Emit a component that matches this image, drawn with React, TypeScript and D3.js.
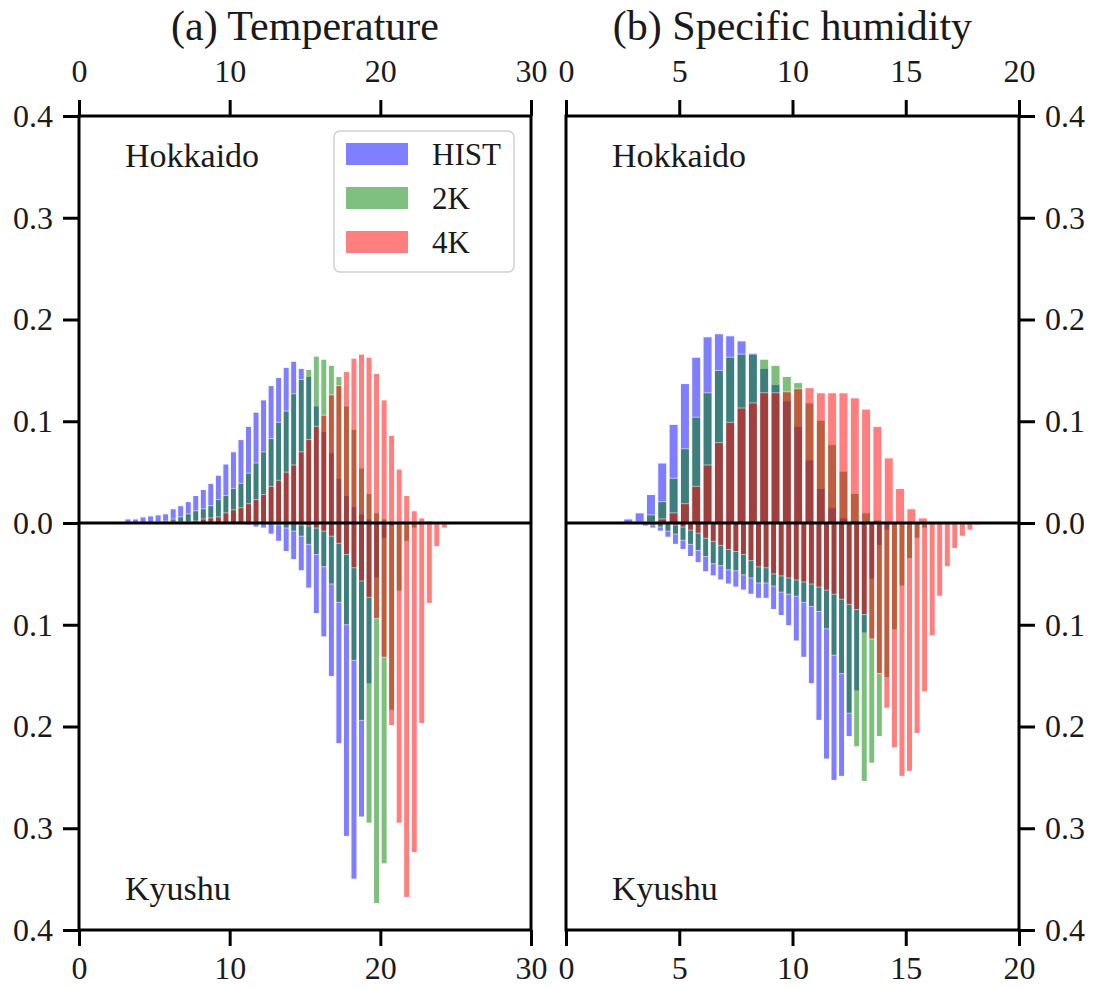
import React, { useRef, useEffect } from "react";
import * as d3 from "d3";

// series: HIST (blue), 2K (green), 4K (red)
const seriesNames = ["HIST", "2K", "4K"];
const seriesColors = ["#0000ff", "#008000", "#ff0000"];

// (a) temperature, bins of 0.5, Hokkaido (upward)
const tempBinWidth = 0.5;
const tempHokStarts = [3.0, 5.0, 6.0];
const tempHokHist = [0.004, 0.004, 0.006, 0.007, 0.008, 0.009, 0.014, 0.017, 0.021, 0.027, 0.033, 0.039, 0.047, 0.058, 0.070, 0.082, 0.095, 0.109, 0.121, 0.135, 0.143, 0.153, 0.159, 0.152, 0.144, 0.115, 0.090, 0.069, 0.044, 0.027, 0.016, 0.009, 0.004, 0.001];
const tempHok2K = [0.001, 0.002, 0.004, 0.006, 0.009, 0.012, 0.014, 0.017, 0.023, 0.027, 0.034, 0.039, 0.049, 0.059, 0.070, 0.083, 0.099, 0.110, 0.127, 0.141, 0.151, 0.164, 0.161, 0.155, 0.144, 0.115, 0.092, 0.054, 0.029, 0.010, 0.004, 0.001];
const tempHok4K = [0.001, 0.001, 0.001, 0.002, 0.004, 0.005, 0.006, 0.010, 0.013, 0.015, 0.019, 0.023, 0.028, 0.036, 0.042, 0.050, 0.057, 0.070, 0.082, 0.095, 0.106, 0.126, 0.135, 0.149, 0.162, 0.166, 0.163, 0.147, 0.121, 0.086, 0.053, 0.027, 0.012, 0.005, 0.002, 0.001, 0.001];

// (a) temperature, Kyushu (downward)
const tempKyuStarts = [11.0, 13.0, 14.5];
const tempKyuHist = [0.002, 0.004, 0.005, 0.011, 0.018, 0.028, 0.036, 0.047, 0.064, 0.089, 0.112, 0.151, 0.217, 0.308, 0.350, 0.289, 0.158, 0.054, 0.015, 0.003];
const tempKyu2K = [0.002, 0.005, 0.008, 0.013, 0.021, 0.031, 0.043, 0.060, 0.078, 0.100, 0.135, 0.194, 0.295, 0.374, 0.335, 0.184, 0.067, 0.018, 0.005];
const tempKyu4K = [0.002, 0.003, 0.005, 0.008, 0.013, 0.020, 0.031, 0.044, 0.057, 0.073, 0.094, 0.132, 0.199, 0.295, 0.368, 0.324, 0.197, 0.079, 0.023, 0.005];

// (b) specific humidity, Hokkaido, bins of 0.5
const humHokBinWidth = 0.5;
const humHokStarts = [2.5, 3.0, 3.5];
const humHokHist = [0.004, 0.010, 0.028, 0.059, 0.097, 0.137, 0.163, 0.183, 0.186, 0.184, 0.179, 0.167, 0.152, 0.136, 0.120, 0.095, 0.062, 0.034, 0.015, 0.005, 0.002];
const humHok2K = [0.001, 0.008, 0.021, 0.044, 0.073, 0.104, 0.128, 0.150, 0.163, 0.166, 0.166, 0.161, 0.155, 0.144, 0.138, 0.118, 0.101, 0.077, 0.051, 0.029, 0.010, 0.003];
const humHok4K = [0.001, 0.004, 0.010, 0.019, 0.036, 0.057, 0.079, 0.099, 0.113, 0.118, 0.128, 0.128, 0.129, 0.132, 0.133, 0.128, 0.128, 0.128, 0.123, 0.112, 0.095, 0.064, 0.034, 0.014, 0.005];

// (b) specific humidity, Kyushu, bins of 1/3
const humKyuBinWidth = 1 / 3;
const humKyuStarts = [3.0, 11 / 3, 14 / 3];
const humKyuHist = [0.001, 0.003, 0.005, 0.008, 0.014, 0.021, 0.026, 0.033, 0.039, 0.048, 0.052, 0.056, 0.060, 0.063, 0.066, 0.070, 0.074, 0.074, 0.085, 0.091, 0.101, 0.116, 0.132, 0.158, 0.194, 0.232, 0.253, 0.249, 0.210, 0.165, 0.108, 0.055, 0.022, 0.007, 0.002];
const humKyu2K = [0.002, 0.004, 0.008, 0.011, 0.017, 0.021, 0.027, 0.033, 0.040, 0.042, 0.046, 0.047, 0.051, 0.054, 0.059, 0.059, 0.062, 0.068, 0.070, 0.072, 0.078, 0.082, 0.087, 0.104, 0.130, 0.148, 0.187, 0.220, 0.254, 0.236, 0.210, 0.152, 0.105, 0.062, 0.035, 0.015, 0.005];
const humKyu4K = [0.002, 0.004, 0.007, 0.010, 0.015, 0.018, 0.022, 0.026, 0.028, 0.031, 0.037, 0.043, 0.044, 0.050, 0.052, 0.054, 0.056, 0.058, 0.060, 0.063, 0.066, 0.070, 0.075, 0.080, 0.085, 0.090, 0.114, 0.148, 0.182, 0.221, 0.249, 0.244, 0.207, 0.166, 0.111, 0.072, 0.043, 0.025, 0.013, 0.007, 0.002];

const yTicks = [-0.4, -0.3, -0.2, -0.1, 0, 0.1, 0.2, 0.3, 0.4];
const tempTicks = [0, 10, 20, 30];
const humTicks = [0, 5, 10, 15, 20];

const FONT = "Liberation Serif, DejaVu Serif, serif";
const TEXT = "#1a1a1a";
const yTop = 116;
const yBottom = 930;

const panels = [
  {
    id: "a", title: "(a) Temperature", domain: [0, 30], x0: 79, x1: 531, ticks: tempTicks, side: "left",
    top: { width: tempBinWidth, starts: tempHokStarts, values: [tempHokHist, tempHok2K, tempHok4K] },
    bottom: { width: tempBinWidth, starts: tempKyuStarts, values: [tempKyuHist, tempKyu2K, tempKyu4K] },
    legend: true,
  },
  {
    id: "b", title: "(b) Specific humidity", domain: [0, 20], x0: 566, x1: 1019, ticks: humTicks, side: "right",
    top: { width: humHokBinWidth, starts: humHokStarts, values: [humHokHist, humHok2K, humHok4K] },
    bottom: { width: humKyuBinWidth, starts: humKyuStarts, values: [humKyuHist, humKyu2K, humKyu4K] },
    legend: false,
  },
];

const y = d3.scaleLinear().domain([0.4, -0.4]).range([yTop, yBottom]);

function Bars({ x, group, sign }) {
  const rects = [];
  group.values.forEach((vals, s) => {
    vals.forEach((v, i) => {
      const lo = group.starts[s] + i * group.width + group.width * 0.1;
      const hi = lo + group.width * 0.8;
      const y0 = y(0);
      const y1 = y(sign * v);
      rects.push(
        <rect
          key={`${s}-${i}`}
          x={x(lo)}
          width={x(hi) - x(lo)}
          y={Math.min(y0, y1)}
          height={Math.abs(y1 - y0)}
          fill={seriesColors[s]}
          stroke="#ffffff"
          strokeWidth={1}
          opacity={0.5}
        />
      );
    });
  });
  return <g>{rects}</g>;
}

export default function App() {
  const axesRef = useRef(null);

  useEffect(() => {
    const root = d3.select(axesRef.current);
    root.selectAll("*").remove();
    panels.forEach((p) => {
      const x = d3.scaleLinear().domain(p.domain).range([p.x0, p.x1]);
      const g = root.append("g");
      g.append("g")
        .attr("transform", `translate(0,${yTop})`)
        .call(d3.axisTop(x).tickValues(p.ticks).tickSize(16).tickPadding(18).tickFormat(d3.format("d")));
      g.append("g")
        .attr("transform", `translate(0,${yBottom})`)
        .call(d3.axisBottom(x).tickValues(p.ticks).tickSize(16).tickPadding(10).tickFormat(d3.format("d")));
      const yAxis = (p.side === "left" ? d3.axisLeft(y) : d3.axisRight(y))
        .tickValues(yTicks)
        .tickSize(16)
        .tickPadding(10)
        .tickFormat((d) => d3.format(".1f")(Math.abs(d)));
      g.append("g")
        .attr("transform", `translate(${p.side === "left" ? p.x0 : p.x1},0)`)
        .call(yAxis);
      g.selectAll(".domain").remove();
      g.selectAll(".tick line").attr("stroke", "#000").attr("stroke-width", 3);
      g.selectAll("g").attr("font-family", FONT);
      g.selectAll(".tick text")
        .attr("font-family", FONT)
        .attr("font-size", 32)
        .attr("fill", TEXT);
    });
  }, []);

  return (
    <div style={{ position: "absolute", left: 0, top: 0 }}>
      <svg width={1094} height={989} style={{ display: "block", background: "#fff" }}>
        {panels.map((p) => {
          const x = d3.scaleLinear().domain(p.domain).range([p.x0, p.x1]);
          const cx = (p.x0 + p.x1) / 2;
          return (
            <g key={p.id}>
              <text x={cx} y={40} textAnchor="middle" fontFamily={FONT} fontSize={42} fill={TEXT}>
                {p.title}
              </text>
              <Bars x={x} group={p.top} sign={1} />
              <Bars x={x} group={p.bottom} sign={-1} />
              <line x1={p.x0} x2={p.x1} y1={y(0)} y2={y(0)} stroke="#000" strokeWidth={3} />
              <rect x={p.x0} y={yTop} width={p.x1 - p.x0} height={yBottom - yTop} fill="none" stroke="#000" strokeWidth={3} />
              <text x={p.x0 + 46} y={167} fontFamily={FONT} fontSize={34} fill={TEXT}>Hokkaido</text>
              <text x={p.x0 + 46} y={900} fontFamily={FONT} fontSize={34} fill={TEXT}>Kyushu</text>
              {p.legend && (
                <g>
                  <rect x={334} y={131} width={180} height={141} rx={6} fill="#fff" fillOpacity={0.8} stroke="#d0d0d0" strokeWidth={1.5} />
                  {seriesNames.map((n, i) => (
                    <g key={n}>
                      <rect x={346} y={143 + i * 44} width={62} height={22} fill={seriesColors[i]} opacity={0.5} />
                      <text x={432} y={165 + i * 44} fontFamily={FONT} fontSize={31} fill={TEXT}>{n}</text>
                    </g>
                  ))}
                </g>
              )}
            </g>
          );
        })}
        <g ref={axesRef} />
      </svg>
    </div>
  );
}
